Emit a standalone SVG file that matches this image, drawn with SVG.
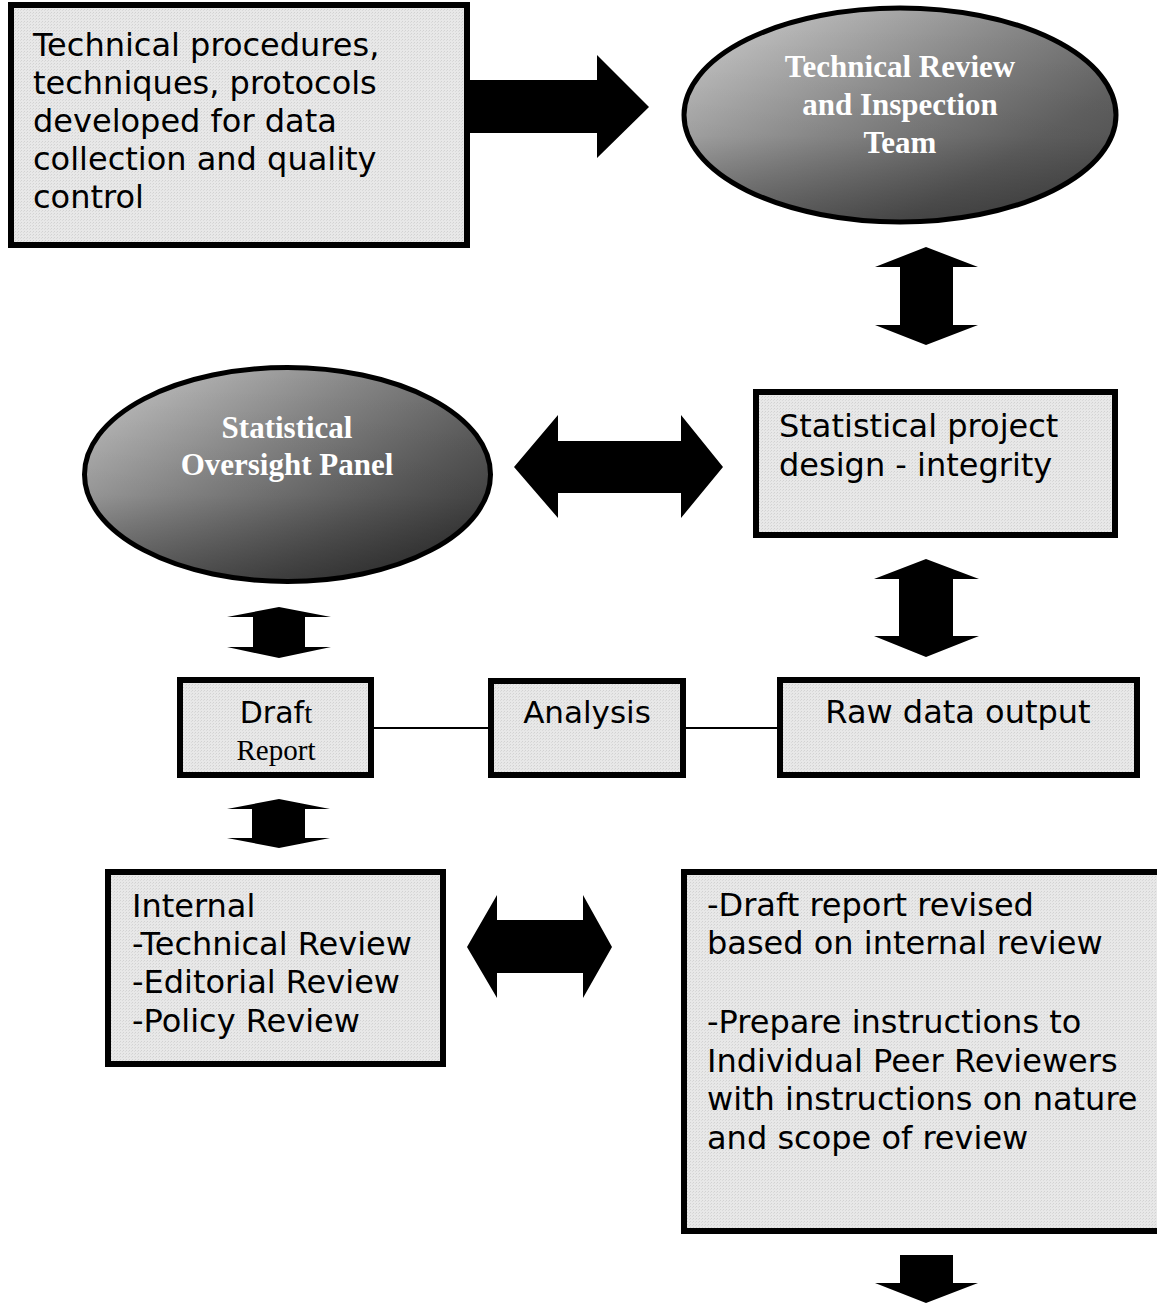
<svg xmlns="http://www.w3.org/2000/svg" width="1157" height="1304" viewBox="0 0 1157 1304">
  <defs>
    <pattern id="dots" width="3" height="3" patternUnits="userSpaceOnUse">
      <rect width="3" height="3" fill="#e8e8e8"/>
      <rect x="0" y="0" width="1" height="1" fill="#d2d2d2"/>
      <rect x="2" y="1" width="1" height="1" fill="#dadada"/>
    </pattern>
    <linearGradient id="ell1" x1="0" y1="0.1" x2="1" y2="0.9">
      <stop offset="0" stop-color="#cbcbcb"/>
      <stop offset="0.45" stop-color="#8a8a8a"/>
      <stop offset="0.75" stop-color="#626262"/>
      <stop offset="1" stop-color="#4e4e4e"/>
    </linearGradient>
    <linearGradient id="ell2" x1="0" y1="0.1" x2="1" y2="0.9">
      <stop offset="0" stop-color="#c4c4c4"/>
      <stop offset="0.4" stop-color="#858585"/>
      <stop offset="0.7" stop-color="#5a5a5a"/>
      <stop offset="1" stop-color="#333333"/>
    </linearGradient>
    <linearGradient id="shade" x1="0" y1="0" x2="0" y2="1">
      <stop offset="0" stop-color="#000" stop-opacity="0"/>
      <stop offset="0.6" stop-color="#000" stop-opacity="0.05"/>
      <stop offset="1" stop-color="#000" stop-opacity="0.3"/>
    </linearGradient>
  </defs>
  <style>
    .box { fill: url(#dots); stroke: #000; stroke-width: 6; }
    .ell { stroke: #000; stroke-width: 5; }
    .t { font-family: "DejaVu Sans", Verdana, sans-serif; font-size: 32px; fill: #000; }
    .et { font-family: "Liberation Serif", "Times New Roman", serif; font-weight: bold; font-size: 31px; fill: #fff; text-anchor: middle; }
    .arrow { fill: #000; }
    .link { stroke: #000; stroke-width: 2; fill: none; }
  </style>
  <rect width="1157" height="1304" fill="#fff"/>

  <g id="connectors">
    <polygon class="arrow" points="443,80 597,80 597,55 649,107 597,158 597,133 443,133"/>
    <polygon class="arrow" points="926,247 978,267 953,267 953,325 978,325 926,345 875,325 900,325 900,267 875,267"/>
    <polygon class="arrow" points="514,467 558,415 558,441 681,441 681,415 723,467 681,518 681,493 558,493 558,518"/>
    <polygon class="arrow" points="926,559 979,579 953,579 953,636 979,636 926,657 874,636 899,636 899,579 874,579"/>
    <polygon class="arrow" points="279,607 331,617 305,617 305,647 331,647 279,658 227,647 253,647 253,617 227,617"/>
    <polygon class="arrow" points="279,799 330,809 305,809 305,838 330,838 279,848 227,838 252,838 252,809 227,809"/>
    <polygon class="arrow" points="467,947 497,895 497,920 583,920 583,895 612,947 583,998 583,973 497,973 497,998"/>
    <polygon class="arrow" points="900,1255 953,1255 953,1283 978,1283 926,1303 875,1283 900,1283"/>
    <line class="link" x1="374" y1="728" x2="488" y2="728"/>
    <line class="link" x1="686" y1="728" x2="777" y2="728"/>
  </g>

  <g id="procedures">
    <rect class="box" x="11" y="5" width="456" height="240"/>
    <text class="t" x="33" y="56">Technical procedures,</text>
    <text class="t" x="33" y="94">techniques, protocols</text>
    <text class="t" x="33" y="132">developed for data</text>
    <text class="t" x="33" y="170">collection and quality</text>
    <text class="t" x="33" y="208">control</text>
  </g>

  <g id="review-team">
    <ellipse class="ell" cx="900" cy="115" rx="216" ry="107" fill="url(#ell1)"/>
    <ellipse cx="900" cy="115" rx="214" ry="105" fill="url(#shade)"/>
    <text class="et" x="900" y="77">Technical Review</text>
    <text class="et" x="900" y="115">and Inspection</text>
    <text class="et" x="900" y="153">Team</text>
  </g>

  <g id="oversight-panel">
    <ellipse class="ell" cx="287.5" cy="474.5" rx="203" ry="107" fill="url(#ell2)"/>
    <ellipse cx="287.5" cy="474.5" rx="201" ry="105" fill="url(#shade)"/>
    <text class="et" x="287" y="438">Statistical</text>
    <text class="et" x="287" y="475">Oversight Panel</text>
  </g>

  <g id="project-design">
    <rect class="box" x="756" y="392" width="359" height="143"/>
    <text class="t" x="779" y="437">Statistical project</text>
    <text class="t" x="779" y="476">design - integrity</text>
  </g>

  <g id="draft-report">
    <rect class="box" x="180" y="680" width="191" height="95"/>
    <text class="t" x="276" y="723" text-anchor="middle" style="font-size:30px">Draf<tspan style="font-family:'Liberation Serif','Times New Roman',serif;font-size:29px">t</tspan></text>
    <text x="276" y="760" text-anchor="middle" style="font-family:'Liberation Serif','Times New Roman',serif;font-size:29px;fill:#000">Report</text>
  </g>

  <g id="analysis">
    <rect class="box" x="491" y="681" width="192" height="94"/>
    <text class="t" x="587" y="723" text-anchor="middle" style="font-size:31px">Analysis</text>
  </g>

  <g id="raw-data">
    <rect class="box" x="780" y="680" width="357" height="95"/>
    <text class="t" x="958" y="723" text-anchor="middle">Raw data output</text>
  </g>

  <g id="internal-review">
    <rect class="box" x="108" y="872" width="335" height="192"/>
    <text class="t" x="132" y="917">Internal</text>
    <text class="t" x="132" y="955">-Technical Review</text>
    <text class="t" x="132" y="993">-Editorial Review</text>
    <text class="t" x="132" y="1032">-Policy Review</text>
  </g>

  <g id="revised-draft">
    <rect class="box" x="684" y="872" width="480" height="359"/>
    <text class="t" x="707" y="916">-Draft report revised</text>
    <text class="t" x="707" y="954">based on internal review</text>
    <text class="t" x="707" y="1033">-Prepare instructions to</text>
    <text class="t" x="707" y="1072">Individual Peer Reviewers</text>
    <text class="t" x="707" y="1110">with instructions on nature</text>
    <text class="t" x="707" y="1149">and scope of review</text>
  </g>
</svg>
